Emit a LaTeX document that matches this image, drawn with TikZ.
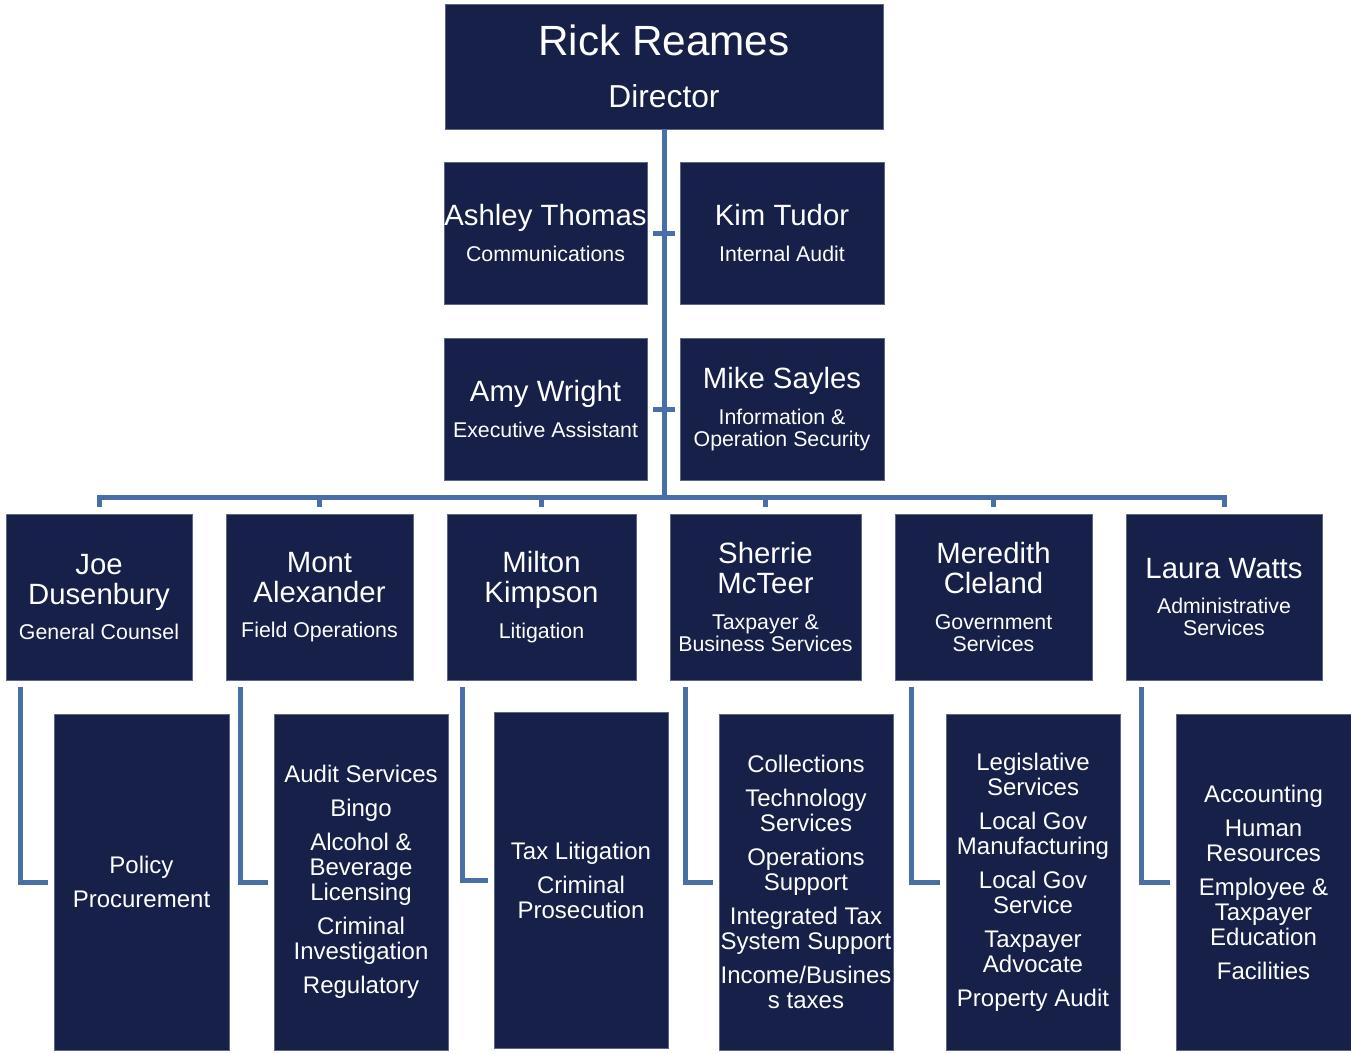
\documentclass[tikz,border=0pt]{standalone}
\usepackage{fontspec}
\setmainfont{Liberation Sans}
\definecolor{navy}{HTML}{162048}
\definecolor{edgec}{HTML}{5C6787}
\definecolor{linkc}{HTML}{4870A6}
\tikzset{
  box/.style={fill=navy, draw=edgec, line width=0.6pt, text=white, align=center, inner sep=0pt},
  conn/.style={draw=linkc, line width=3.75pt},
  topfont/.style={font=\fontsize{31.7}{39}\selectfont},
  midfont/.style={font=\fontsize{16}{16.5}\selectfont},
  lowfont/.style={font=\fontsize{18}{18.75}\selectfont},
}
\newcommand\nmA{\fontsize{22}{22.5}\selectfont}
\newcommand\sbA{\fontsize{16}{16.5}\selectfont}
\newcommand\obox[7]{\node[box,#7, minimum width={(#4-#2)*0.75pt}, minimum height={(#5-#3)*0.75pt}] (#1) at ({(#2+#4)/2},{(#3+#5)/2}) {#6};}
\begin{document}
\begin{tikzpicture}[x=0.75pt,y=-0.75pt]
\useasboundingbox (0,0) rectangle (1351,1053);
% director
\obox{rick}{445}{4}{883}{129}{Rick Reames\\{\fontsize{23.8}{24}\selectfont Director}}{topfont}
% staff
\obox{ashley}{444}{162}{647}{304}{{\nmA Ashley Thomas}\\[10pt]Communications}{midfont}
\obox{kim}{680}{162}{884}{304}{{\nmA Kim Tudor}\\[10pt]Internal Audit}{midfont}
\obox{amy}{444}{338}{647}{480}{{\nmA Amy Wright}\\[10pt]Executive Assistant}{midfont}
\obox{mike}{680}{338}{884}{480}{{\nmA Mike Sayles}\\[10pt]Information \&\\Operation Security}{midfont}
% division heads
\obox{joe}{6}{514}{192}{680}{{\nmA Joe}\\[6pt]{\nmA Dusenbury}\\[10pt]General Counsel}{midfont}
\obox{mont}{226}{514}{413}{680}{{\nmA Mont}\\[6pt]{\nmA Alexander}\\[10pt]Field Operations}{midfont}
\obox{milton}{447}{514}{636}{680}{{\nmA Milton}\\[6pt]{\nmA Kimpson}\\[10pt]Litigation}{midfont}
\obox{sherrie}{670}{514}{861}{680}{{\nmA Sherrie}\\[6pt]{\nmA McTeer}\\[10pt]Taxpayer \&\\Business Services}{midfont}
\obox{meredith}{895}{514}{1092}{680}{{\nmA Meredith}\\[6pt]{\nmA Cleland}\\[10pt]Government\\Services}{midfont}
\obox{laura}{1126}{514}{1322}{680}{{\nmA Laura Watts}\\[10pt]Administrative\\Services}{midfont}
% units
\obox{policy}{54}{714}{229}{1050}{Policy\\[6.75pt]Procurement}{lowfont}
\obox{audit}{274}{714}{448}{1050}{Audit Services\\[6.75pt]Bingo\\[6.75pt]Alcohol \&\\Beverage\\Licensing\\[6.75pt]Criminal\\Investigation\\[6.75pt]Regulatory}{lowfont}
\obox{taxlit}{494}{712}{668}{1048}{Tax Litigation\\[6.75pt]Criminal\\Prosecution}{lowfont}
\obox{collect}{719}{714}{893}{1050}{Collections\\[6.75pt]Technology\\Services\\[6.75pt]Operations\\Support\\[6.75pt]Integrated Tax\\System Support\\[6.75pt]Income/Busines\\s taxes}{lowfont}
\obox{legis}{946}{714}{1120}{1050}{Legislative\\Services\\[6.75pt]Local Gov\\Manufacturing\\[6.75pt]Local Gov\\Service\\[6.75pt]Taxpayer\\Advocate\\[6.75pt]Property Audit}{lowfont}
\obox{account}{1176}{714}{1351}{1050}{Accounting\\[6.75pt]Human\\Resources\\[6.75pt]Employee \&\\Taxpayer\\Education\\[6.75pt]Facilities}{lowfont}
% connectors
\path (rick.south) ++(0,368) coordinate (bus);
\draw[conn] (rick.south) -- ([yshift=-3*0.75pt]bus);
\draw[conn] ([xshift=6*0.75pt]ashley.east) -- ([xshift=-5*0.75pt]kim.west);
\draw[conn] ([xshift=6*0.75pt]amy.east) -- ([xshift=-5*0.75pt]mike.west);
\foreach \c in {joe,mont,milton,sherrie,meredith,laura}
  \draw[conn] (bus) -| ([yshift=7*0.75pt]\c.north);
\draw[conn] ([xshift=15*0.75pt,yshift=-7*0.75pt]joe.south west) |- ([xshift=-6*0.75pt]policy.west);
\draw[conn] ([xshift=15*0.75pt,yshift=-7*0.75pt]mont.south west) |- ([xshift=-6*0.75pt]audit.west);
\draw[conn] ([xshift=16*0.75pt,yshift=-7*0.75pt]milton.south west) |- ([xshift=-6*0.75pt]taxlit.west);
\draw[conn] ([xshift=16*0.75pt,yshift=-7*0.75pt]sherrie.south west) |- ([xshift=-6*0.75pt]collect.west);
\draw[conn] ([xshift=17*0.75pt,yshift=-7*0.75pt]meredith.south west) |- ([xshift=-6*0.75pt]legis.west);
\draw[conn] ([xshift=16*0.75pt,yshift=-7*0.75pt]laura.south west) |- ([xshift=-6*0.75pt]account.west);
\end{tikzpicture}
\end{document}
